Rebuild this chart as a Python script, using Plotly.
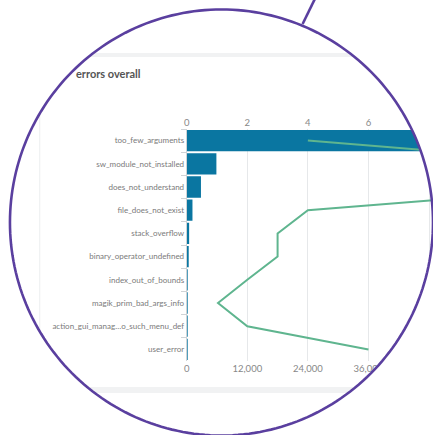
import math
import plotly.graph_objects as go

W, H = 433, 435

categories = [
    "too_few_arguments",
    "sw_module_not_installed",
    "does_not_understand",
    "file_does_not_exist",
    "stack_overflow",
    "binary_operator_undefined",
    "index_out_of_bounds",
    "magik_prim_bad_args_info",
    "action_gui_manag…o_such_menu_def",
    "user_error",
]
bar_values = [9.6, 0.98, 0.47, 0.19, 0.08, 0.05, 0.004, 0.004, 0.003, 0.003]
line_values = [24000, 80000, 82000, 24000, 18000, 18000, 12000, 6200, 12000, 36000]
top_ticks = [0, 2, 4, 6, 8]
bottom_ticks = [0, 12000, 24000, 36000, 48000]

FONT = "Lato"
BAR_COLOR = "#0a76a1"
LINE_COLOR = "#5fb58f"
PURPLE = "#5a3f9f"


def px(x, y):
    return x / W, 1 - y / H


# plot area in pixels
PL, PR, PT, PB = 185, 433, 129, 361
x_top_max = (PR - PL) / 30.5
x_bot_max = (PR - PL) / 61.0 * 12000

fig = go.Figure()
fig.add_trace(go.Bar(
    y=categories, x=bar_values, orientation="h",
    marker=dict(color=BAR_COLOR, line=dict(width=0)),
    xaxis="x", yaxis="y", showlegend=False,
))
fig.add_trace(go.Scatter(
    y=categories, x=line_values, mode="lines",
    line=dict(color=LINE_COLOR, width=2),
    xaxis="x2", yaxis="y", showlegend=False,
))

shapes = []
# card borders (below)
def rect(x0, y0, x1, y1, color, layer="below"):
    a = px(x0, y0)
    b = px(x1, y1)
    return dict(type="rect", xref="paper", yref="paper", x0=a[0], y0=a[1], x1=b[0], y1=b[1],
                fillcolor=color, line=dict(width=0), layer=layer)

shapes.append(rect(37, 53, 440, 57, "#f1f2f3"))
shapes.append(rect(37, 387, 440, 393, "#f1f2f3"))
shapes.append(rect(36.5, 57, 37.5, 387, "#eceeef"))

# circular lens mask
cx, cy, r = 220, 222.5, 213
pts = []
N = 240
for i in range(N):
    t = 2 * math.pi * i / N
    pts.append(px(cx + r * math.cos(t), cy + r * math.sin(t)))
circ = "M " + " L ".join(f"{a:.5f},{b:.5f}" for a, b in pts) + " Z"
outer = "M -0.2,-0.2 L 1.2,-0.2 L 1.2,1.2 L -0.2,1.2 Z "
shapes.append(dict(type="path", xref="paper", yref="paper", path=outer + circ,
                   fillcolor="white", fillrule="evenodd", line=dict(width=0), layer="above"))
shapes.append(dict(type="path", xref="paper", yref="paper", path=circ,
                   fillcolor="rgba(0,0,0,0)", line=dict(color=PURPLE, width=2.6), layer="above"))
h0 = px(301.7, 24)
h1 = px(315, -3)
shapes.append(dict(type="line", xref="paper", yref="paper", x0=h0[0], y0=h0[1], x1=h1[0], y1=h1[1],
                   line=dict(color=PURPLE, width=2.6), layer="above"))

t = px(71, 74)
fig.update_layout(
    width=W, height=H,
    margin=dict(l=0, r=0, t=0, b=0),
    paper_bgcolor="white", plot_bgcolor="white",
    font=dict(family=FONT, color="#777"),
    bargap=0.08,
    xaxis=dict(
        domain=[PL / W, PR / W], side="top", range=[0, x_top_max],
        tickvals=top_ticks, ticktext=[str(v) for v in top_ticks],
        showgrid=True, gridcolor="#e6e8ea", gridwidth=1, zeroline=False,
        showline=False, ticks="", tickfont=dict(size=9.5, color="#888", family=FONT),
        fixedrange=True,
    ),
    xaxis2=dict(
        overlaying="x", side="bottom", anchor="y", range=[0, x_bot_max],
        tickvals=bottom_ticks, ticktext=[f"{v:,}" for v in bottom_ticks],
        showgrid=False, zeroline=False, showline=False, ticks="",
        tickfont=dict(size=9.5, color="#888", family=FONT),
    ),
    yaxis=dict(
        domain=[1 - PB / H, 1 - PT / H], type="category", autorange="reversed",
        showline=True, linecolor="#cfd3d6", linewidth=1,
        ticks="outside", tickson="boundaries", ticklen=5, tickcolor="#cfd3d6",
        showgrid=False, tickfont=dict(size=8, color="#7a7a7a", family=FONT),
    ),
    shapes=shapes,
    annotations=[dict(
        x=t[0], y=t[1], xref="paper", yref="paper", xanchor="left", yanchor="middle",
        text="<b>errors overall</b>", showarrow=False,
        font=dict(size=11, color="#555", family=FONT),
    )],
)

fig.write_html("out.html")
